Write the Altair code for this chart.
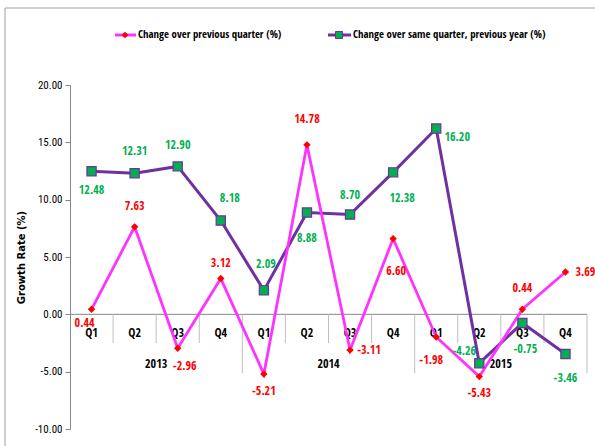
import altair as alt
import pandas as pd

# Quarterly growth of the index, 2013-2015
quarters = ["Q1", "Q2", "Q3", "Q4"] * 3
years = ["2013"] * 4 + ["2014"] * 4 + ["2015"] * 4
qoq = [0.44, 7.63, -2.96, 3.12, -5.21, 14.78, -3.11, 6.60, -1.98, -5.43, 0.44, 3.69]
yoy = [12.48, 12.31, 12.90, 8.18, 2.09, 8.88, 8.70, 12.38, 16.20, -4.26, -0.75, -3.46]

# label offsets (dx, dy) in pixels from each marker
qoq_label_off = [(-7, 14), (0, -21), (7, 18), (0, -16), (0, 17), (0, -26),
                 (19, 0), (3, 32), (-5, 23), (0, 16), (0, -21), (20, 0)]
yoy_label_off = [(0, 19), (0, -22), (0, -21), (9, -23), (2, -26), (0, 25),
                 (0, -20), (9, 26), (21, 8), (-15, -12), (3, 26), (0, 24)]

LEG1 = "Change over previous quarter (%)"
LEG2 = "Change over same quarter, previous year  (%)"

FONT = "Open Sans Condensed"
AXFONT = "Roboto Condensed"
MAGENTA = "#FF33FF"
RED = "#FF0000"
PURPLE = "#7030A0"
GREEN = "#00B050"
GRAY = "#868686"

df = pd.DataFrame({
    "i": list(range(12)),
    "quarter": quarters,
    "year": years,
    "qoq": qoq,
    "yoy": yoy,
    "zero": [0.0] * 12,
})

xs = alt.Scale(domain=[-0.5, 11.5], nice=False, zero=False)
ys = alt.Scale(domain=[-10, 20], nice=False)
X = alt.X("i:Q", scale=xs, axis=None)

# numbers written with a plain hyphen for the minus sign
HYPHEN = "replace(format({v}, '.2f'), '\u2212', '-')"

y_axis = alt.Axis(
    values=[-10, -5, 0, 5, 10, 15, 20], grid=False,
    labelExpr=HYPHEN.format(v="datum.value"),
    domainColor=GRAY, tickColor=GRAY, tickSize=5,
    labelFont=AXFONT, labelFontSize=11, labelColor="black", labelPadding=3,
    title="Growth Rate (%)", titleFont="DejaVu Sans", titleFontSize=10,
    titleFontWeight="bold", titleColor="black", titlePadding=8,
)

base = alt.Chart(df)
first = base.transform_filter("datum.i == 0")

# frame around the chart
frame = first.mark_rect(fill="transparent", stroke="#A0A0A0", strokeWidth=1).encode(
    x=alt.value(-65), x2=alt.value(600), y=alt.value(-77), y2=alt.value(420)
)

# zero line acting as the category axis, with separators between quarters
seps = pd.DataFrame({"x": [k + 0.5 for k in range(12)]})
seps["y0"] = 0.0
seps["y2"] = [(-5.15 if x in (3.5, 7.5, 11.5) else -2.5) for x in seps["x"]]
zero_line = alt.Chart(pd.DataFrame({"a": [-0.5], "b": [11.5], "y": [0.0]})).mark_rule(
    color=GRAY, strokeWidth=1
).encode(x=alt.X("a:Q", scale=xs, axis=None), x2="b:Q",
         y=alt.Y("y:Q", scale=ys, axis=y_axis))
sep_rules = alt.Chart(seps).mark_rule(color="#BFBFBF", strokeWidth=1).encode(
    x=alt.X("x:Q", scale=xs, axis=None),
    y=alt.Y("y0:Q", scale=ys), y2="y2:Q",
)

q_labels = base.mark_text(font=FONT, fontSize=12, fontWeight="bold", color="black", dy=19).encode(
    x=X, y=alt.Y("zero:Q", scale=ys), text="quarter:N"
)
yr = pd.DataFrame({"year": ["2013", "2014", "2015"], "c": [1.5, 5.5, 9.5], "zero": [0.0] * 3})
yr_labels = alt.Chart(yr).mark_text(font=FONT, fontSize=12, fontWeight="bold", color="black", dy=50).encode(
    x=alt.X("c:Q", scale=xs, axis=None), y=alt.Y("zero:Q", scale=ys), text="year:N"
)

Yq = alt.Y("qoq:Q", scale=ys)
Yy = alt.Y("yoy:Q", scale=ys)

qoq_line = base.mark_line(color=MAGENTA, strokeWidth=2.8).encode(x=X, y=Yq)
qoq_pts = base.mark_point(shape="diamond", filled=True, color=RED, size=55, opacity=1).encode(x=X, y=Yq)
yoy_line = base.mark_line(color=PURPLE, strokeWidth=3).encode(x=X, y=Yy)
yoy_pts = base.mark_point(shape="square", filled=True, fill=GREEN, stroke=PURPLE,
                          strokeWidth=1.2, size=85, opacity=1).encode(x=X, y=Yy)


def value_labels(field, offsets, color):
    layers = []
    for (dx, dy) in sorted(set(offsets)):
        idx = [k for k, o in enumerate(offsets) if o == (dx, dy)]
        layers.append(
            base.transform_filter(alt.FieldOneOfPredicate(field="i", oneOf=idx))
            .transform_calculate(lbl=HYPHEN.format(v=f"datum.{field}"))
            .mark_text(font=FONT, fontSize=12, fontWeight="bold", color=color, dx=dx, dy=dy)
            .encode(x=X, y=alt.Y(f"{field}:Q", scale=ys), text="lbl:N")
        )
    return layers


qoq_text = value_labels("qoq", qoq_label_off, RED)
yoy_text = value_labels("yoy", yoy_label_off, GREEN)

# legend drawn above the plot
legend = [
    first.mark_rule(color=MAGENTA, strokeWidth=3).encode(x=alt.value(45), x2=alt.value(66), y=alt.value(-50)),
    first.mark_point(shape="diamond", filled=True, color=RED, size=45, opacity=1).encode(
        x=alt.value(55), y=alt.value(-50)),
    first.mark_text(text=LEG1, font=FONT, fontSize=10.8, fontWeight="bold", align="left", color="black").encode(
        x=alt.value(68), y=alt.value(-50)),
    first.mark_rule(color=PURPLE, strokeWidth=3).encode(x=alt.value(258), x2=alt.value(281), y=alt.value(-50)),
    first.mark_point(shape="square", filled=True, fill=GREEN, stroke=PURPLE, strokeWidth=1, size=50, opacity=1).encode(
        x=alt.value(269), y=alt.value(-50)),
    first.mark_text(text=LEG2, font=FONT, fontSize=10.8, fontWeight="bold", align="left", color="black").encode(
        x=alt.value(283), y=alt.value(-50)),
]

chart = alt.layer(
    zero_line, frame, sep_rules, q_labels, yr_labels,
    yoy_line, qoq_line, yoy_pts, qoq_pts,
    *qoq_text, *yoy_text, *legend,
).properties(
    width=517, height=344,
    autosize=alt.AutoSizeParams(type="none"),
    padding={"left": 70, "top": 85, "right": 8, "bottom": 17},
    background="white",
).configure_view(stroke=None)

chart.save("out.html", embed_options={"renderer": "svg", "actions": False})
